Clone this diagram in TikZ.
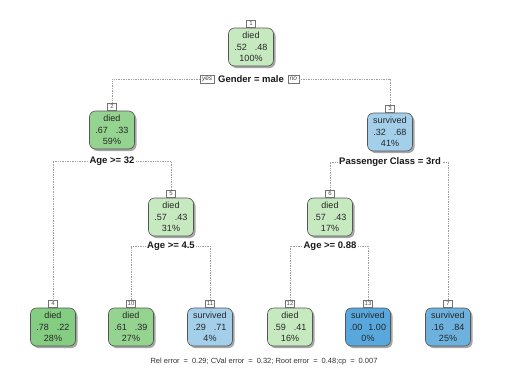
\documentclass[tikz,border=0pt]{standalone}
\usepackage{fontspec}
\setmainfont{Liberation Sans}
\usetikzlibrary{shadows}
\definecolor{gA}{HTML}{C7E9C0}
\definecolor{gB}{HTML}{94D490}
\definecolor{gC}{HTML}{84CD82}
\definecolor{bA}{HTML}{A3CFEA}
\definecolor{bB}{HTML}{6DB2DE}
\definecolor{bC}{HTML}{58A8DE}
\definecolor{edge}{HTML}{555555}
\begin{document}
\begin{tikzpicture}[x=1pt,y=-1pt,
  tnode/.style={draw=edge, line width=0.6pt, rounded corners=6pt, minimum width=45pt, minimum height=38pt,
    align=center, inner sep=0pt, text=black!85, font=\fontsize{9}{11.5}\selectfont,
    drop shadow={shadow xshift=2pt, shadow yshift=-2pt, fill=black!35, opacity=1}},
  numbox/.style={draw=black!55, fill=white, line width=0.4pt, minimum width=9pt, minimum height=7.5pt,
    inner xsep=1pt, inner ysep=0pt, anchor=south, font=\fontsize{6}{6}\selectfont, text=black!70},
  splitlab/.style={font=\bfseries\fontsize{9.5}{10}\selectfont, inner sep=1.5pt, text=black!90},
  ynbox/.style={draw=black!55, fill=white, line width=0.4pt, inner xsep=2pt, inner ysep=1pt, minimum height=8pt,
    font=\itshape\fontsize{6.5}{6.5}\selectfont, text=black!75},
  conn/.style={draw=black!38, line width=0.55pt, dash pattern=on 0.8pt off 0.9pt}]
\useasboundingbox (0,0) rectangle (512,384);
\fill[white] (0,0) rectangle (512,384);
% nodes
\node[tnode, fill=gA] (n1) at (251,47) {died\\.52\hspace{8pt}.48\\100\%};
\node[tnode, fill=gB] (n2) at (112,130) {died\\.67\hspace{8pt}.33\\59\%};
\node[tnode, fill=bA] (n3) at (390,132) {survived\\.32\hspace{8pt}.68\\41\%};
\node[tnode, fill=gA] (n5) at (171,217) {died\\.57\hspace{8pt}.43\\31\%};
\node[tnode, fill=gA] (n6) at (330,217) {died\\.57\hspace{8pt}.43\\17\%};
\node[tnode, fill=gC] (n4) at (53,327) {died\\.78\hspace{8pt}.22\\28\%};
\node[tnode, fill=gB] (n10) at (131,327) {died\\.61\hspace{8pt}.39\\27\%};
\node[tnode, fill=bA] (n11) at (210,327) {survived\\.29\hspace{8pt}.71\\4\%};
\node[tnode, fill=gA] (n12) at (290,327) {died\\.59\hspace{8pt}.41\\16\%};
\node[tnode, fill=bC] (n13) at (368,327) {survived\\.00\hspace{6pt}1.00\\0\%};
\node[tnode, fill=bB] (n7) at (448,327) {survived\\.16\hspace{8pt}.84\\25\%};
% number boxes
\node[numbox] (k1) at (n1.north) {1};
\node[numbox] (k2) at (n2.north) {2};
\node[numbox] (k3) at (n3.north) {3};
\node[numbox] (k5) at (n5.north) {5};
\node[numbox] (k6) at (n6.north) {6};
\node[numbox] (k4) at (n4.north) {4};
\node[numbox] (k10) at (n10.north) {10};
\node[numbox] (k11) at (n11.north) {11};
\node[numbox] (k12) at (n12.north) {12};
\node[numbox] (k13) at (n13.north) {13};
\node[numbox] (k7) at (n7.north) {7};
% split labels
\node[splitlab] (s1) at (251,79) {Gender = male};
\node[ynbox, anchor=east] (yes) at ([xshift=-2pt]s1.west) {yes};
\node[ynbox, anchor=west] (no) at ([xshift=2pt]s1.east) {no};
\node[splitlab] (s2) at (112,161) {Age >= 32};
\node[splitlab] (s3) at (390,162) {Passenger Class = 3rd};
\node[splitlab] (s5) at (171,246) {Age >= 4.5};
\node[splitlab] (s6) at (330,246) {Age >= 0.88};
% connectors
\draw[conn] (yes.west) -| (k2.north);
\draw[conn] (no.east) -| (k3.north);
\draw[conn] (s2.west) -| (k4.north);
\draw[conn] (s2.east) -| (k5.north);
\draw[conn] (s3.west) -| (k6.north);
\draw[conn] (s3.east) -| (k7.north);
\draw[conn] (s5.west) -| (k10.north);
\draw[conn] (s5.east) -| (k11.north);
\draw[conn] (s6.west) -| (k12.north);
\draw[conn] (s6.east) -| (k13.north);
% footer
\node[font=\fontsize{7.5}{8}\selectfont, text=black!80] (foot) at (264,362) {Rel error\hspace{4pt}=\hspace{4pt}0.29; CVal error\hspace{4pt}=\hspace{4pt}0.32; Root error\hspace{4pt}=\hspace{4pt}0.48;cp\hspace{4pt}=\hspace{4pt}0.007};
\end{tikzpicture}
\end{document}
